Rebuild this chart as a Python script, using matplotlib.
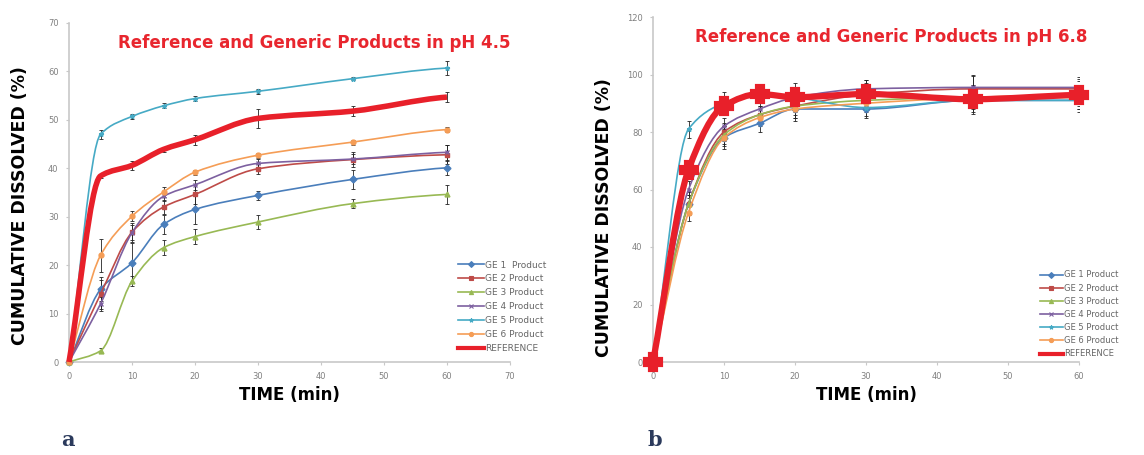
#!/usr/bin/env python3
"""Dissolution profiles of reference and generic products at pH 4.5 and 6.8."""
import matplotlib
matplotlib.use("Agg")
import matplotlib.pyplot as plt
import numpy as np
from matplotlib.lines import Line2D
from matplotlib.patches import PathPatch
from matplotlib.path import Path

TIME = [0, 5, 10, 15, 20, 30, 45, 60]
NAMES = ["GE 1  Product", "GE 2 Product", "GE 3 Product", "GE 4 Product",
         "GE 5 Product", "GE 6 Product", "REFERENCE"]
NAMES_B = ["GE 1 Product", "GE 2 Product", "GE 3 Product", "GE 4 Product",
           "GE 5 Product", "GE 6 Product", "REFERENCE"]

# pH 4.5 (panel a)
PH45 = {
    "GE1": [0, 15.0, 20.5, 28.4, 31.5, 34.4, 37.7, 40.1],
    "GE2": [0, 14.0, 26.8, 32.0, 34.6, 39.9, 41.8, 42.8],
    "GE3": [0, 2.3, 16.7, 23.6, 25.9, 28.9, 32.7, 34.6],
    "GE4": [0, 12.0, 26.7, 34.2, 36.6, 41.0, 41.9, 43.3],
    "GE5": [0, 47.0, 50.7, 52.9, 54.4, 55.9, 58.5, 60.7],
    "GE6": [0, 22.0, 30.1, 35.1, 39.2, 42.7, 45.4, 48.0],
    "REF": [0, 38.4, 40.6, 43.9, 45.9, 50.3, 51.8, 54.7],
}
SD45 = {
    "GE1": [0, 2.5, 4.0, 2.0, 3.0, 1.0, 2.0, 1.5],
    "GE2": [0, 3.0, 2.0, 1.5, 2.0, 1.0, 1.5, 2.0],
    "GE3": [0, 0.5, 1.0, 1.5, 1.5, 1.5, 1.0, 2.0],
    "GE4": [0, 1.5, 1.5, 1.0, 1.0, 1.0, 1.0, 1.5],
    "GE5": [0, 1.0, 0.5, 0.5, 0.5, 0.5, 0.3, 1.5],
    "GE6": [0, 3.5, 1.0, 1.0, 0.5, 0.5, 0.5, 0.5],
    "REF": [0, 0.5, 1.0, 0.5, 1.0, 2.0, 1.0, 1.0],
}

# pH 6.8 (panel b)
PH68 = {
    "GE1": [0, 55.0, 78.0, 83.0, 88.0, 88.0, 91.0, 91.0],
    "GE2": [0, 55.0, 80.0, 86.0, 89.0, 93.0, 95.0, 95.0],
    "GE3": [0, 55.0, 79.0, 86.0, 89.0, 91.0, 92.0, 92.0],
    "GE4": [0, 60.0, 82.0, 88.0, 92.0, 95.0, 95.5, 95.5],
    "GE5": [0, 81.0, 90.0, 93.0, 92.0, 88.5, 91.0, 91.0],
    "GE6": [0, 52.0, 78.0, 85.0, 88.0, 90.0, 92.0, 93.0],
    "REF": [0, 66.9, 89.1, 93.2, 92.1, 93.2, 91.4, 92.9],
}
SD68 = {
    "GE1": [0, 4.0, 4.0, 3.0, 4.0, 3.0, 4.0, 4.0],
    "GE2": [0, 3.0, 3.0, 3.0, 4.0, 4.0, 5.0, 4.0],
    "GE3": [0, 3.0, 3.0, 3.0, 3.0, 3.0, 3.0, 3.0],
    "GE4": [0, 3.0, 3.0, 3.0, 3.0, 3.0, 4.0, 3.0],
    "GE5": [0, 3.0, 4.0, 3.0, 3.0, 3.0, 3.0, 3.0],
    "GE6": [0, 3.0, 3.0, 3.0, 3.0, 3.0, 3.0, 3.0],
    "REF": [0, 2.0, 3.0, 3.0, 5.0, 5.0, 5.0, 5.0],
}

KEYS = ["GE1", "GE2", "GE3", "GE4", "GE5", "GE6", "REF"]
COLORS = ["#4A7EBB", "#BE4B48", "#98B954", "#7D60A0", "#46AAC5", "#F59D56",
          "#E8202A"]
MARKERS = ["D", "s", "^", "x", "*", "o", None]


def smooth_path(x, y):
    # smoothed line drawn as cubic Bezier segments (monotone tangents)
    x = np.asarray(x, float)
    y = np.asarray(y, float)
    h = np.diff(x)
    d = np.diff(y) / h
    m = np.zeros_like(y)
    for i in range(1, len(x) - 1):
        if d[i - 1] * d[i] > 0:
            w1 = 2 * h[i] + h[i - 1]
            w2 = h[i] + 2 * h[i - 1]
            m[i] = (w1 + w2) / (w1 / d[i - 1] + w2 / d[i])
    m[0] = d[0]
    m[-1] = d[-1] * 0.5
    verts = [(x[0], y[0])]
    codes = [Path.MOVETO]
    for i in range(len(x) - 1):
        verts += [(x[i] + h[i] / 3, y[i] + m[i] * h[i] / 3),
                  (x[i + 1] - h[i] / 3, y[i + 1] - m[i + 1] * h[i] / 3),
                  (x[i + 1], y[i + 1])]
        codes += [Path.CURVE4] * 3
    return Path(verts, codes)


def panel(ax, data, sd, names, ymax, xmax, ystep, title, title_x,
          ref_marker, ref_lw, ylab_x, ylab_y, leg_pos, leg_fs, leg_sp):
    handles = []
    for k, c, m, name in zip(KEYS, COLORS, MARKERS, names):
        ref = k == "REF"
        lw = ref_lw if ref else 1.2
        ax.add_patch(PathPatch(smooth_path(TIME, data[k]), fill=False,
                               edgecolor=c, lw=lw, zorder=4 if ref else 3,
                               clip_on=False))
        ax.errorbar(TIME, data[k], yerr=sd[k], fmt="none", ecolor="#222222",
                    elinewidth=0.6, capsize=1.5, capthick=0.6, zorder=2)
        mk = ref_marker if ref else m
        ms = 11 if ref else 3.5
        if mk:
            ax.plot(TIME, data[k], ls="none", marker=mk, color=c, ms=ms,
                    mew=3 if ref else 1.0, zorder=5 if ref else 3,
                    clip_on=False)
        handles.append(Line2D([], [], color=c, lw=3 if ref else 1.2,
                              marker=None if ref else m, ms=3, mew=0.8))
    ax.set_xlim(0, xmax)
    ax.set_ylim(0, ymax)
    ax.set_xticks(range(0, xmax + 1, 10))
    ax.set_yticks(range(0, ymax + 1, ystep))
    for s in ("top", "right"):
        ax.spines[s].set_visible(False)
    for s in ("left", "bottom"):
        ax.spines[s].set_color("#C8C8C8")
        ax.spines[s].set_linewidth(1.2)
    ax.tick_params(labelsize=6, colors="#C8C8C8", labelcolor="#808080",
                   length=2.5, pad=5)
    ax.set_xlabel("TIME (min)", fontsize=12, fontweight="bold", labelpad=3)
    ax.set_ylabel("CUMULATIVE DISSOLVED (%)", fontsize=12.5,
                  fontweight="bold")
    ax.yaxis.set_label_coords(ylab_x, ylab_y)
    ax.text(title_x, 1 - 20 / 340, title, transform=ax.transAxes,
            ha="center", va="center", color="#E8262E", fontsize=12,
            fontweight="bold")
    leg = ax.legend(handles, names, loc="upper left", bbox_to_anchor=leg_pos,
                    frameon=False, fontsize=leg_fs, handlelength=2.8,
                    handletextpad=0.15, labelspacing=leg_sp, borderaxespad=0)
    for t in leg.get_texts():
        t.set_color("#666666")


fig = plt.figure(figsize=(11.44, 4.55), dpi=100)
ax_a = fig.add_axes([69 / 1144, 93 / 455, 441 / 1144, 339 / 455])
ax_b = fig.add_axes([653 / 1144, 93 / 455, 426 / 1144, 345 / 455])

panel(ax_a, PH45, SD45, NAMES, 70, 70, 10,
      "Reference and Generic Products in pH 4.5", 0.555, None, 4.0,
      -0.09, 0.46, (0.875, 0.31), 6.5, 0.55)
panel(ax_b, PH68, SD68, NAMES_B, 120, 60, 20,
      "Reference and Generic Products in pH 6.8", 0.56, "P", 4.5,
      -0.095, 0.42, (0.90, 0.275), 6.0, 0.5)

fig.text(68 / 1144, 1 - 440 / 455, "a", fontsize=15, fontweight="bold",
         family="DejaVu Serif", color="#2B3A5C", ha="center", va="center")
fig.text(655 / 1144, 1 - 440 / 455, "b", fontsize=15, fontweight="bold",
         family="DejaVu Serif", color="#2B3A5C", ha="center", va="center")

fig.savefig("out.png", dpi=100)
